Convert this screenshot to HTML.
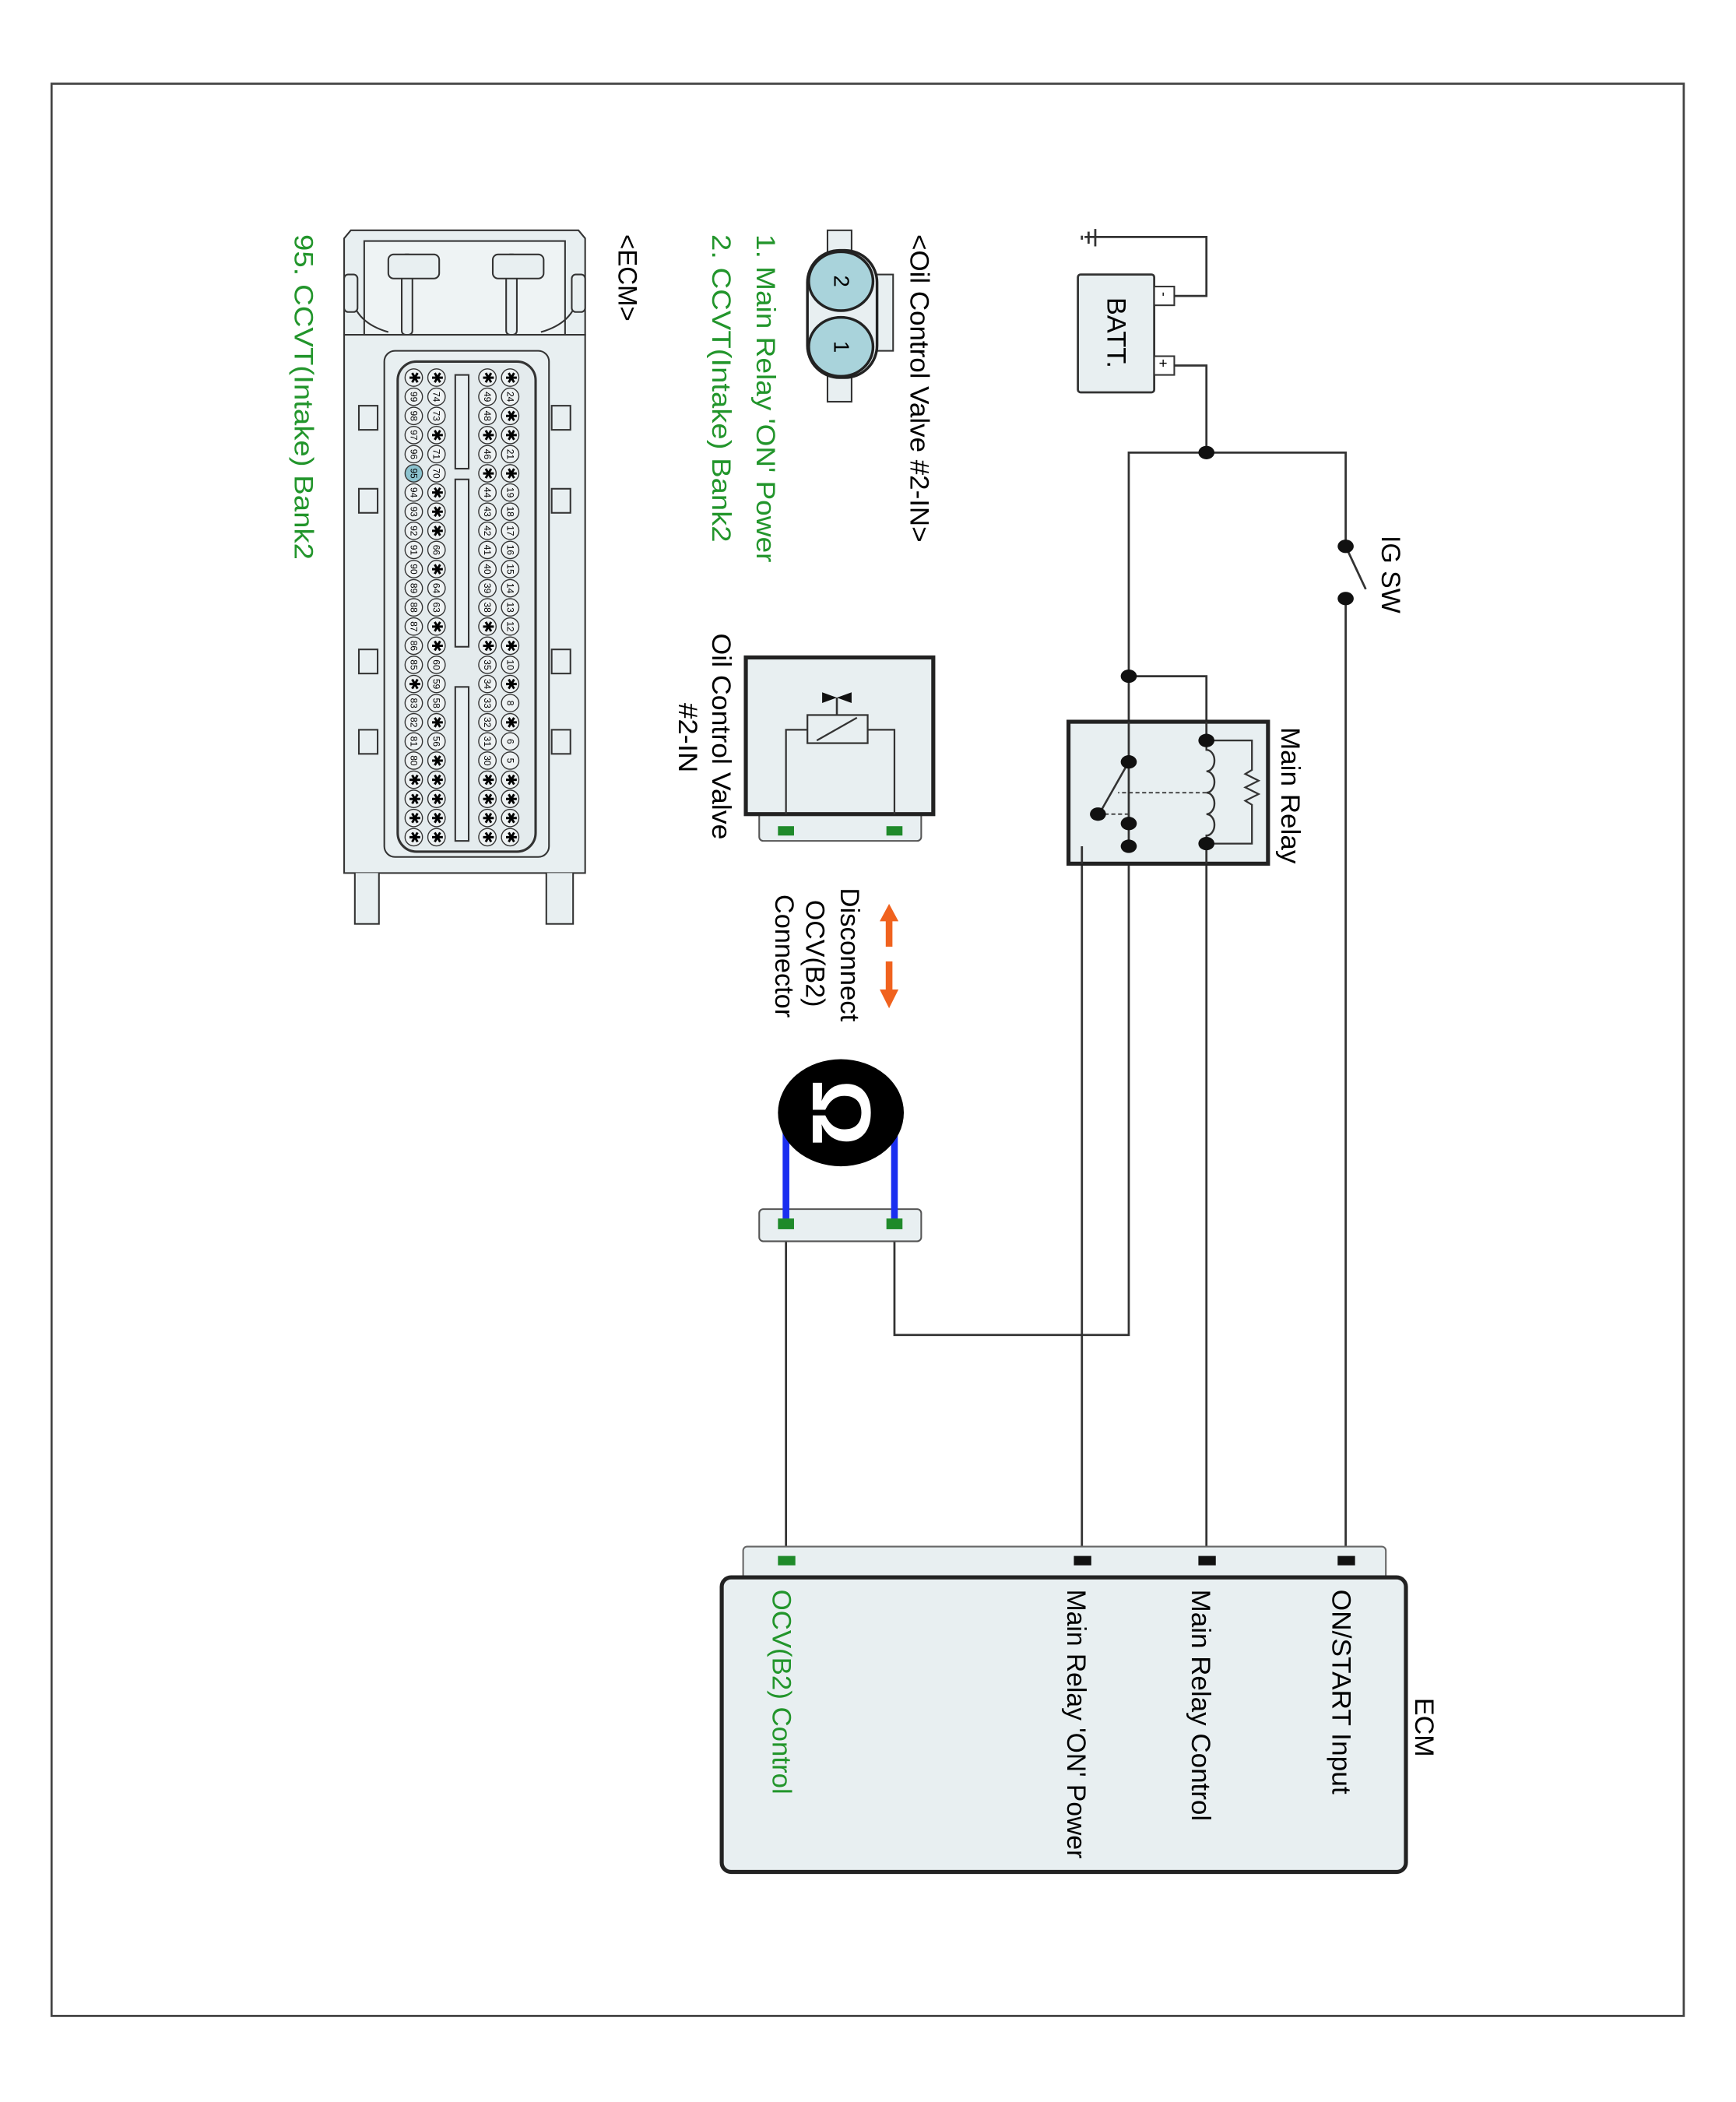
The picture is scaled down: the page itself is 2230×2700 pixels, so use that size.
<!DOCTYPE html>
<html><head><meta charset="utf-8"><style>html,body{margin:0;padding:0;background:#fff}svg{display:block}</style></head>
<body>
<svg xmlns="http://www.w3.org/2000/svg" width="2230" height="2700" viewBox="0 0 1296.5 1569.8" font-family="'Liberation Sans', Arial, sans-serif">
<rect x="0" y="0" width="1296.5" height="1569.8" fill="#fff"/>
<rect x="38.5" y="62.5" width="1219" height="1443" fill="none" stroke="#444" stroke-width="1.6"/>

<!-- wires -->
<g fill="none" stroke="#333" stroke-width="1.6">
<polyline points="810,177 901,177 901,221 877,221"/>
<polyline points="877,273 901,273 901,338"/>
<polyline points="843,632 843,338 1005,338 1005,408"/>
<line x1="1005" y1="447" x2="1005" y2="1165"/>
<polyline points="843,505 901,505 901,553"/>
<line x1="901" y1="630" x2="901" y2="1165"/>
<polyline points="843,632 808,632 808,1165"/>
<polyline points="843,632 843,997 668,997 668,920"/>
<line x1="587" y1="920" x2="587" y2="1165"/>
<line x1="1005" y1="408" x2="1020" y2="440"/>
</g>
<!-- ground -->
<g stroke="#333" stroke-width="1.6">
<line x1="818" y1="171" x2="818" y2="184"/><line x1="813" y1="173" x2="813" y2="182"/><line x1="808" y1="176" x2="808" y2="179"/>
</g>
<!-- battery -->
<rect x="805" y="205" width="57" height="88" rx="2" fill="#e8eff1" stroke="#333" stroke-width="1.6"/>
<rect x="862" y="214" width="15" height="14" fill="#fff" stroke="#333" stroke-width="1.2"/>
<rect x="862" y="266" width="15" height="14" fill="#fff" stroke="#333" stroke-width="1.2"/>
<text x="0" y="0" font-size="10" transform="translate(866,218) rotate(90)">-</text>
<text x="0" y="0" font-size="11" transform="translate(865,268) rotate(90)">+</text>
<text font-size="20" textLength="53" lengthAdjust="spacingAndGlyphs" transform="translate(827,222) rotate(90)">BATT.</text>

<!-- junction dots -->
<g fill="#111">
<ellipse cx="901" cy="338" rx="6" ry="5"/>
<ellipse cx="1005" cy="408" rx="6" ry="5"/><ellipse cx="1005" cy="447" rx="6" ry="5"/>
<ellipse cx="843" cy="505" rx="6" ry="5"/>
</g>
<text font-size="20" textLength="58" lengthAdjust="spacingAndGlyphs" transform="translate(1032,400) rotate(90)">IG SW</text>

<!-- main relay -->
<rect x="798" y="539" width="149" height="106" fill="#e8eff1" stroke="#222" stroke-width="3"/>
<line x1="843" y1="539" x2="843" y2="632" stroke="#333" stroke-width="1.6"/>
<line x1="901" y1="539" x2="901" y2="553" stroke="#333" stroke-width="1.6"/>
<line x1="901" y1="630" x2="901" y2="645" stroke="#333" stroke-width="1.6"/>
<line x1="808" y1="632" x2="808" y2="645" stroke="#333" stroke-width="1.6"/>
<path d="M901,553 L901,560 a6,8 0 0 1 0,16 a6,8 0 0 1 0,16 a6,8 0 0 1 0,16 a6,8 0 0 1 0,16 L901,630" fill="none" stroke="#333" stroke-width="1.4" transform="translate(0,0)"/>
<polyline points="901,553 935,553 935,575 930,578 940,583 930,588 940,593 930,598 935,601 935,630 901,630" fill="none" stroke="#333" stroke-width="1.3"/>
<line x1="901" y1="592" x2="835" y2="592" stroke="#333" stroke-width="1" stroke-dasharray="3,2"/>
<line x1="843" y1="569" x2="822" y2="606" stroke="#333" stroke-width="1.5"/>
<line x1="820" y1="608" x2="843" y2="608" stroke="#333" stroke-width="1" stroke-dasharray="3,2"/>
<g fill="#111">
<ellipse cx="901" cy="553" rx="6" ry="5"/><ellipse cx="901" cy="630" rx="6" ry="5"/>
<ellipse cx="843" cy="569" rx="6" ry="5"/><ellipse cx="820" cy="608" rx="6" ry="5"/>
<ellipse cx="843" cy="615" rx="6" ry="5"/><ellipse cx="843" cy="632" rx="6" ry="5"/>
</g>
<text font-size="20" textLength="102" lengthAdjust="spacingAndGlyphs" transform="translate(957,543) rotate(90)">Main Relay</text>

<!-- OCV component -->
<rect x="567" y="600" width="121" height="28" rx="3" fill="#e8eff1" stroke="#555" stroke-width="1.2"/>
<rect x="557" y="491" width="140" height="117" fill="#e8eff1" stroke="#222" stroke-width="3"/>
<polyline points="587,608 587,545 603,545" fill="none" stroke="#333" stroke-width="1.3"/>
<polyline points="668,608 668,545 648,545" fill="none" stroke="#333" stroke-width="1.3"/>
<rect x="603" y="534" width="45" height="21" fill="none" stroke="#333" stroke-width="1.3"/>
<line x1="610" y1="553" x2="640" y2="536" stroke="#333" stroke-width="1.3"/>
<line x1="625" y1="534" x2="625" y2="521" stroke="#333" stroke-width="1.5"/>
<polygon points="614,517 614,525 625,521" fill="#111"/><polygon points="636,517 636,525 625,521" fill="#111"/>
<rect x="581" y="617" width="12" height="7" fill="#1f8a2a"/><rect x="662" y="617" width="12" height="7" fill="#1f8a2a"/>
<text font-size="20" textLength="154" lengthAdjust="spacingAndGlyphs" transform="translate(532,473) rotate(90)">Oil Control Valve</text>
<text font-size="20" textLength="52" lengthAdjust="spacingAndGlyphs" transform="translate(507,525) rotate(90)">#2-IN</text>

<!-- disconnect arrows -->
<g fill="#f0621e">
<polygon points="664,675 657,688 671,688"/><rect x="661.5" y="687" width="5" height="20"/>
<rect x="661.5" y="718" width="5" height="22"/><polygon points="664,753 657,739 671,739"/>
</g>
<text font-size="20" textLength="100" lengthAdjust="spacingAndGlyphs" transform="translate(628,663) rotate(90)">Disconnect</text>
<text font-size="20" textLength="80" lengthAdjust="spacingAndGlyphs" transform="translate(602,672) rotate(90)">OCV(B2)</text>
<text font-size="20" textLength="92" lengthAdjust="spacingAndGlyphs" transform="translate(579,668) rotate(90)">Connector</text>

<!-- jumper -->
<rect x="567" y="903" width="121" height="24" rx="3" fill="#e8eff1" stroke="#555" stroke-width="1.2"/>
<line x1="587" y1="845" x2="587" y2="914" stroke="#1a2ef0" stroke-width="5"/>
<line x1="668" y1="845" x2="668" y2="914" stroke="#1a2ef0" stroke-width="5"/>
<ellipse cx="628" cy="831" rx="47" ry="40" fill="#000"/>
<text font-size="62" font-weight="bold" fill="#fff" text-anchor="middle" transform="translate(607,831) rotate(90)">Ω</text>
<rect x="581" y="910" width="12" height="8" fill="#1f8a2a"/><rect x="662" y="910" width="12" height="8" fill="#1f8a2a"/>

<!-- ECM -->
<rect x="555" y="1155" width="480" height="30" rx="3" fill="#e8eff1" stroke="#666" stroke-width="1.2"/>
<rect x="539" y="1178" width="511" height="220" rx="7" fill="#e8eff1" stroke="#222" stroke-width="3"/>
<rect x="999" y="1162" width="13" height="7" fill="#111"/>
<rect x="895" y="1162" width="13" height="7" fill="#111"/>
<rect x="802" y="1162" width="13" height="7" fill="#111"/>
<rect x="581" y="1162" width="13" height="7" fill="#1f8a2a"/>
<text font-size="20" textLength="44" lengthAdjust="spacingAndGlyphs" transform="translate(1057,1268) rotate(90)">ECM</text>
<text font-size="20" textLength="153" lengthAdjust="spacingAndGlyphs" transform="translate(995,1187) rotate(90)">ON/START Input</text>
<text font-size="20" textLength="173" lengthAdjust="spacingAndGlyphs" transform="translate(890,1187) rotate(90)">Main Relay Control</text>
<text font-size="20" textLength="201" lengthAdjust="spacingAndGlyphs" transform="translate(797,1187) rotate(90)">Main Relay 'ON' Power</text>
<text font-size="20" fill="#22952b" textLength="153" lengthAdjust="spacingAndGlyphs" transform="translate(577,1187) rotate(90)">OCV(B2) Control</text>

<!-- top-left labels -->
<text font-size="20" textLength="230" lengthAdjust="spacingAndGlyphs" transform="translate(680,175) rotate(90)">&lt;Oil Control Valve #2-IN&gt;</text>
<text font-size="20" fill="#22952b" textLength="245" lengthAdjust="spacingAndGlyphs" transform="translate(565,175) rotate(90)">1. Main Relay 'ON' Power</text>
<text font-size="20" fill="#22952b" textLength="230" lengthAdjust="spacingAndGlyphs" transform="translate(532,175) rotate(90)">2. CCVT(Intake) Bank2</text>
<text font-size="20" textLength="65" lengthAdjust="spacingAndGlyphs" transform="translate(462,175) rotate(90)">&lt;ECM&gt;</text>
<text font-size="20" fill="#22952b" textLength="243" lengthAdjust="spacingAndGlyphs" transform="translate(220,175) rotate(90)">95. CCVT(Intake) Bank2</text>

<!-- OCV 2-pin connector -->
<rect x="618" y="172" width="18" height="128" fill="#e8eff1" stroke="#333" stroke-width="1.2"/>
<rect x="650" y="205" width="17" height="57" fill="#e8eff1" stroke="#333" stroke-width="1.2"/>
<rect x="603" y="187" width="52" height="95" rx="24" fill="#e8eff1" stroke="#222" stroke-width="2"/>
<ellipse cx="628" cy="210" rx="24" ry="22" fill="#a9d3db" stroke="#222" stroke-width="2"/>
<ellipse cx="628" cy="259" rx="24" ry="22" fill="#a9d3db" stroke="#222" stroke-width="2"/>
<text font-size="16" text-anchor="middle" transform="translate(623,210) rotate(90)">2</text>
<text font-size="16" text-anchor="middle" transform="translate(623,259) rotate(90)">1</text>

<!-- ECM connector drawing -->
<g stroke="#333" stroke-width="1.2" fill="#e8eff1">
<rect x="257" y="250" width="180" height="402"/>
<path d="M257,250 L257,178 L262,172 L432,172 L437,178 L437,250 Z"/>
<rect x="272" y="180" width="150" height="70" fill="#eef3f4"/>
<rect x="300" y="190" width="8" height="60" rx="3"/>
<rect x="378" y="190" width="8" height="60" rx="3"/>
<rect x="290" y="190" width="38" height="18" rx="4"/>
<rect x="368" y="190" width="38" height="18" rx="4"/>
<path d="M262,215 Q262,240 290,248" fill="none"/><path d="M432,215 Q432,240 404,248" fill="none"/>
<rect x="257" y="205" width="10" height="28" rx="3"/><rect x="427" y="205" width="10" height="28" rx="3"/>
<rect x="268" y="303" width="14" height="18"/><rect x="412" y="303" width="14" height="18"/>
<rect x="268" y="365" width="14" height="18"/><rect x="412" y="365" width="14" height="18"/>
<rect x="268" y="485" width="14" height="18"/><rect x="412" y="485" width="14" height="18"/>
<rect x="268" y="545" width="14" height="18"/><rect x="412" y="545" width="14" height="18"/>
<rect x="287" y="262" width="123" height="378" rx="8"/>
<rect x="297" y="270" width="103" height="366" rx="14" stroke-width="1.8" fill="#e4ebed"/>
<rect x="340" y="280" width="10" height="70"/>
<rect x="340" y="358" width="10" height="125"/>
<rect x="340" y="513" width="10" height="115"/>
<path d="M265,652 L265,690 L283,690 L283,652" /><path d="M408,652 L408,690 L428,690 L428,652"/>
</g>

<!-- pins: columns via groups; local (u,v) -> (cx - v, u) -->
<g font-size="7" text-anchor="middle" dominant-baseline="central">
<g transform="translate(381,0) rotate(90)">
<g fill="#eef2f3" stroke="#333" stroke-width=".8">
<circle cx="282" cy="0" r="6.5"/><circle cx="296.3" cy="0" r="6.5"/><circle cx="310.6" cy="0" r="6.5"/><circle cx="324.9" cy="0" r="6.5"/><circle cx="339.2" cy="0" r="6.5"/><circle cx="353.5" cy="0" r="6.5"/><circle cx="367.8" cy="0" r="6.5"/><circle cx="382.1" cy="0" r="6.5"/><circle cx="396.4" cy="0" r="6.5"/><circle cx="410.7" cy="0" r="6.5"/><circle cx="425" cy="0" r="6.5"/><circle cx="439.3" cy="0" r="6.5"/><circle cx="453.6" cy="0" r="6.5"/><circle cx="467.9" cy="0" r="6.5"/><circle cx="482.2" cy="0" r="6.5"/><circle cx="496.5" cy="0" r="6.5"/><circle cx="510.8" cy="0" r="6.5"/><circle cx="525.1" cy="0" r="6.5"/><circle cx="539.4" cy="0" r="6.5"/><circle cx="553.7" cy="0" r="6.5"/><circle cx="568" cy="0" r="6.5"/><circle cx="582.3" cy="0" r="6.5"/><circle cx="596.6" cy="0" r="6.5"/><circle cx="610.9" cy="0" r="6.5"/><circle cx="625.2" cy="0" r="6.5"/>
</g>
<text x="282" y="0" font-size="11">✱</text><text x="296.3" y="0">24</text><text x="310.6" y="0" font-size="11">✱</text><text x="324.9" y="0" font-size="11">✱</text><text x="339.2" y="0">21</text><text x="353.5" y="0" font-size="11">✱</text><text x="367.8" y="0">19</text><text x="382.1" y="0">18</text><text x="396.4" y="0">17</text><text x="410.7" y="0">16</text><text x="425" y="0">15</text><text x="439.3" y="0">14</text><text x="453.6" y="0">13</text><text x="467.9" y="0">12</text><text x="482.2" y="0" font-size="11">✱</text><text x="496.5" y="0">10</text><text x="510.8" y="0" font-size="11">✱</text><text x="525.1" y="0">8</text><text x="539.4" y="0" font-size="11">✱</text><text x="553.7" y="0">6</text><text x="568" y="0">5</text><text x="582.3" y="0" font-size="11">✱</text><text x="596.6" y="0" font-size="11">✱</text><text x="610.9" y="0" font-size="11">✱</text><text x="625.2" y="0" font-size="11">✱</text>
</g>
<g transform="translate(364,0) rotate(90)">
<g fill="#eef2f3" stroke="#333" stroke-width=".8">
<circle cx="282" cy="0" r="6.5"/><circle cx="296.3" cy="0" r="6.5"/><circle cx="310.6" cy="0" r="6.5"/><circle cx="324.9" cy="0" r="6.5"/><circle cx="339.2" cy="0" r="6.5"/><circle cx="353.5" cy="0" r="6.5"/><circle cx="367.8" cy="0" r="6.5"/><circle cx="382.1" cy="0" r="6.5"/><circle cx="396.4" cy="0" r="6.5"/><circle cx="410.7" cy="0" r="6.5"/><circle cx="425" cy="0" r="6.5"/><circle cx="439.3" cy="0" r="6.5"/><circle cx="453.6" cy="0" r="6.5"/><circle cx="467.9" cy="0" r="6.5"/><circle cx="482.2" cy="0" r="6.5"/><circle cx="496.5" cy="0" r="6.5"/><circle cx="510.8" cy="0" r="6.5"/><circle cx="525.1" cy="0" r="6.5"/><circle cx="539.4" cy="0" r="6.5"/><circle cx="553.7" cy="0" r="6.5"/><circle cx="568" cy="0" r="6.5"/><circle cx="582.3" cy="0" r="6.5"/><circle cx="596.6" cy="0" r="6.5"/><circle cx="610.9" cy="0" r="6.5"/><circle cx="625.2" cy="0" r="6.5"/>
</g>
<text x="282" y="0" font-size="11">✱</text><text x="296.3" y="0">49</text><text x="310.6" y="0">48</text><text x="324.9" y="0" font-size="11">✱</text><text x="339.2" y="0">46</text><text x="353.5" y="0" font-size="11">✱</text><text x="367.8" y="0">44</text><text x="382.1" y="0">43</text><text x="396.4" y="0">42</text><text x="410.7" y="0">41</text><text x="425" y="0">40</text><text x="439.3" y="0">39</text><text x="453.6" y="0">38</text><text x="467.9" y="0" font-size="11">✱</text><text x="482.2" y="0" font-size="11">✱</text><text x="496.5" y="0">35</text><text x="510.8" y="0">34</text><text x="525.1" y="0">33</text><text x="539.4" y="0">32</text><text x="553.7" y="0">31</text><text x="568" y="0">30</text><text x="582.3" y="0" font-size="11">✱</text><text x="596.6" y="0" font-size="11">✱</text><text x="610.9" y="0" font-size="11">✱</text><text x="625.2" y="0" font-size="11">✱</text>
</g>
<g transform="translate(326,0) rotate(90)">
<g fill="#eef2f3" stroke="#333" stroke-width=".8">
<circle cx="282" cy="0" r="6.5"/><circle cx="296.3" cy="0" r="6.5"/><circle cx="310.6" cy="0" r="6.5"/><circle cx="324.9" cy="0" r="6.5"/><circle cx="339.2" cy="0" r="6.5"/><circle cx="353.5" cy="0" r="6.5"/><circle cx="367.8" cy="0" r="6.5"/><circle cx="382.1" cy="0" r="6.5"/><circle cx="396.4" cy="0" r="6.5"/><circle cx="410.7" cy="0" r="6.5"/><circle cx="425" cy="0" r="6.5"/><circle cx="439.3" cy="0" r="6.5"/><circle cx="453.6" cy="0" r="6.5"/><circle cx="467.9" cy="0" r="6.5"/><circle cx="482.2" cy="0" r="6.5"/><circle cx="496.5" cy="0" r="6.5"/><circle cx="510.8" cy="0" r="6.5"/><circle cx="525.1" cy="0" r="6.5"/><circle cx="539.4" cy="0" r="6.5"/><circle cx="553.7" cy="0" r="6.5"/><circle cx="568" cy="0" r="6.5"/><circle cx="582.3" cy="0" r="6.5"/><circle cx="596.6" cy="0" r="6.5"/><circle cx="610.9" cy="0" r="6.5"/><circle cx="625.2" cy="0" r="6.5"/>
</g>
<text x="282" y="0" font-size="11">✱</text><text x="296.3" y="0">74</text><text x="310.6" y="0">73</text><text x="324.9" y="0" font-size="11">✱</text><text x="339.2" y="0">71</text><text x="353.5" y="0">70</text><text x="367.8" y="0" font-size="11">✱</text><text x="382.1" y="0" font-size="11">✱</text><text x="396.4" y="0" font-size="11">✱</text><text x="410.7" y="0">66</text><text x="425" y="0" font-size="11">✱</text><text x="439.3" y="0">64</text><text x="453.6" y="0">63</text><text x="467.9" y="0" font-size="11">✱</text><text x="482.2" y="0" font-size="11">✱</text><text x="496.5" y="0">60</text><text x="510.8" y="0">59</text><text x="525.1" y="0">58</text><text x="539.4" y="0" font-size="11">✱</text><text x="553.7" y="0">56</text><text x="568" y="0" font-size="11">✱</text><text x="582.3" y="0" font-size="11">✱</text><text x="596.6" y="0" font-size="11">✱</text><text x="610.9" y="0" font-size="11">✱</text><text x="625.2" y="0" font-size="11">✱</text>
</g>
<g transform="translate(309,0) rotate(90)">
<g fill="#eef2f3" stroke="#333" stroke-width=".8">
<circle cx="282" cy="0" r="6.5"/><circle cx="296.3" cy="0" r="6.5"/><circle cx="310.6" cy="0" r="6.5"/><circle cx="324.9" cy="0" r="6.5"/><circle cx="339.2" cy="0" r="6.5"/><circle cx="353.5" cy="0" r="6.5" fill="#8cc3cf"/><circle cx="367.8" cy="0" r="6.5"/><circle cx="382.1" cy="0" r="6.5"/><circle cx="396.4" cy="0" r="6.5"/><circle cx="410.7" cy="0" r="6.5"/><circle cx="425" cy="0" r="6.5"/><circle cx="439.3" cy="0" r="6.5"/><circle cx="453.6" cy="0" r="6.5"/><circle cx="467.9" cy="0" r="6.5"/><circle cx="482.2" cy="0" r="6.5"/><circle cx="496.5" cy="0" r="6.5"/><circle cx="510.8" cy="0" r="6.5"/><circle cx="525.1" cy="0" r="6.5"/><circle cx="539.4" cy="0" r="6.5"/><circle cx="553.7" cy="0" r="6.5"/><circle cx="568" cy="0" r="6.5"/><circle cx="582.3" cy="0" r="6.5"/><circle cx="596.6" cy="0" r="6.5"/><circle cx="610.9" cy="0" r="6.5"/><circle cx="625.2" cy="0" r="6.5"/>
</g>
<text x="282" y="0" font-size="11">✱</text><text x="296.3" y="0">99</text><text x="310.6" y="0">98</text><text x="324.9" y="0">97</text><text x="339.2" y="0">96</text><text x="353.5" y="0">95</text><text x="367.8" y="0">94</text><text x="382.1" y="0">93</text><text x="396.4" y="0">92</text><text x="410.7" y="0">91</text><text x="425" y="0">90</text><text x="439.3" y="0">89</text><text x="453.6" y="0">88</text><text x="467.9" y="0">87</text><text x="482.2" y="0">86</text><text x="496.5" y="0">85</text><text x="510.8" y="0" font-size="11">✱</text><text x="525.1" y="0">83</text><text x="539.4" y="0">82</text><text x="553.7" y="0">81</text><text x="568" y="0">80</text><text x="582.3" y="0" font-size="11">✱</text><text x="596.6" y="0" font-size="11">✱</text><text x="610.9" y="0" font-size="11">✱</text><text x="625.2" y="0" font-size="11">✱</text>
</g>
</g>
</svg>
</body></html>
